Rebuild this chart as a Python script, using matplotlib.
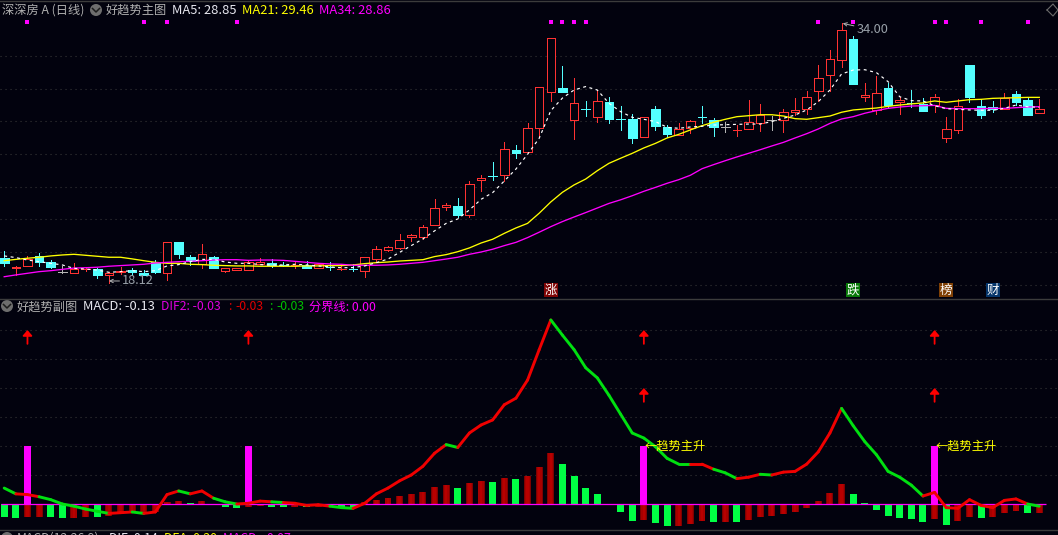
import matplotlib
matplotlib.use("Agg")
import matplotlib.pyplot as plt
from matplotlib.patches import Rectangle, Circle
from matplotlib.transforms import IdentityTransform

plt.rcParams['font.family'] = ['Noto Sans CJK SC', 'DejaVu Sans']

# daily prices
opens = [19.65, 19.05, 19.18, 19.77, 19.38, 18.77, 18.75, 18.93, 18.95, 18.63,
         18.79, 18.91, 18.71, 19.38, 18.75, 20.63, 19.69, 19.26, 19.69, 18.87,
         18.93, 18.93, 19.30, 19.32, 19.22, 19.20, 19.22, 19.05, 19.14, 18.95,
         19.01, 18.83, 19.60, 20.16, 20.28, 20.91, 20.95, 21.64, 22.74, 22.82,
         22.29, 24.39, 24.66, 24.70, 26.25, 26.15, 27.57, 29.77, 30.01, 28.06,
         28.73, 28.24, 29.16, 28.18, 28.12, 27.06, 28.75, 27.63, 27.18, 27.57,
         28.30, 28.06, 27.67, 27.45, 27.51, 27.91, 28.10, 28.10, 28.55, 28.77,
         29.87, 30.81, 31.76, 33.03, 29.50, 28.67, 30.03, 29.16, 29.16, 29.06,
         28.99, 26.96, 27.45, 31.44, 28.91, 28.85, 28.73, 29.67, 29.30, 28.53]
closes = [19.36, 19.12, 19.57, 19.42, 19.12, 18.77, 18.97, 18.97, 18.59, 18.71,
          18.87, 18.81, 18.63, 18.81, 20.61, 19.87, 19.44, 19.87, 19.05, 19.01,
          19.01, 19.38, 19.38, 19.20, 19.20, 19.22, 19.05, 19.30, 19.08, 19.01,
          18.95, 19.69, 20.17, 20.30, 20.74, 21.03, 21.52, 22.68, 22.86, 22.29,
          24.15, 24.51, 24.62, 26.29, 26.08, 27.57, 30.08, 33.07, 29.81, 29.10,
          28.71, 29.22, 28.16, 28.14, 27.00, 28.24, 27.73, 27.22, 27.51, 28.00,
          28.26, 27.67, 27.67, 27.51, 27.94, 28.36, 28.10, 28.55, 28.67, 29.46,
          30.62, 31.79, 33.56, 30.30, 29.59, 29.71, 28.99, 29.28, 29.12, 28.65,
          29.50, 27.51, 28.91, 29.50, 28.40, 28.75, 29.40, 29.20, 28.40, 28.73]
highs = [20.10, 19.16, 19.77, 19.97, 19.52, 19.16, 19.32, 19.08, 19.05, 18.81,
         19.08, 19.05, 18.91, 19.52, 20.61, 20.63, 19.83, 20.50, 19.77, 19.05,
         19.05, 19.52, 19.63, 19.56, 19.40, 19.40, 19.46, 19.32, 19.40, 19.26,
         19.28, 19.69, 20.38, 20.38, 21.11, 21.11, 21.66, 23.23, 22.99, 23.31,
         24.33, 24.72, 25.49, 26.73, 26.55, 27.90, 30.08, 33.07, 31.38, 30.63,
         29.24, 29.91, 29.46, 28.93, 28.45, 28.24, 28.95, 27.75, 27.90, 28.08,
         28.93, 28.18, 27.98, 27.77, 29.30, 29.06, 28.32, 28.75, 29.42, 29.85,
         31.44, 32.36, 34.00, 33.21, 30.32, 30.77, 30.32, 29.50, 29.91, 29.40,
         29.67, 28.24, 29.34, 31.44, 29.34, 29.24, 29.71, 29.85, 29.44, 29.34]
lows = [19.18, 18.59, 19.18, 19.18, 19.02, 18.75, 18.75, 18.83, 18.44, 18.12,
        18.67, 18.61, 18.59, 18.75, 18.30, 19.67, 19.22, 19.05, 19.01, 18.77,
        18.91, 18.91, 19.28, 19.12, 19.16, 19.03, 19.03, 19.03, 18.91, 18.91,
        18.87, 18.50, 19.48, 20.09, 20.18, 20.70, 20.79, 21.64, 22.60, 22.13,
        22.17, 23.76, 24.43, 24.35, 25.78, 26.15, 27.10, 29.26, 29.81, 26.94,
        28.32, 27.98, 27.92, 27.47, 26.69, 27.06, 27.47, 27.06, 27.18, 27.26,
        27.87, 27.12, 27.37, 27.12, 27.51, 27.43, 27.47, 27.36, 28.38, 28.44,
        29.26, 29.87, 31.34, 30.30, 29.26, 28.44, 28.89, 28.44, 28.89, 28.65,
        28.59, 26.75, 27.30, 29.20, 28.22, 28.55, 28.73, 29.00, 28.40, 28.53]

ma5 = [19.77, 19.67, 19.52, 19.42, 19.32, 19.22, 19.01, 18.97, 18.91, 18.77,
       18.81, 18.87, 18.81, 18.87, 19.16, 19.24, 19.42, 19.56, 19.56, 19.40,
       19.32, 19.32, 19.24, 19.22, 19.22, 19.26, 19.22, 19.16, 19.10, 19.05,
       19.06, 19.16, 19.36, 19.58, 19.99, 20.40, 20.81, 21.30, 21.76, 22.03,
       22.58, 23.23, 23.64, 24.35, 25.08, 25.98, 26.96, 28.65, 29.42, 29.91,
       30.12, 29.91, 29.10, 28.59, 28.24, 28.12, 27.98, 27.63, 27.57, 27.65,
       27.69, 27.77, 27.79, 27.81, 27.83, 27.83, 27.98, 28.18, 28.38, 28.69,
       29.20, 29.91, 30.89, 31.13, 31.15, 30.97, 30.42, 29.50, 29.26, 29.24,
       28.95, 28.77, 28.73, 28.69, 28.67, 28.67, 28.79, 28.99, 28.89, 28.85]
ma21 = [19.48, 19.56, 19.63, 19.69, 19.77, 19.83, 19.87, 19.81, 19.75, 19.69,
        19.69, 19.59, 19.48, 19.38, 19.32, 19.32, 19.26, 19.24, 19.20, 19.18,
        19.16, 19.16, 19.14, 19.14, 19.14, 19.14, 19.16, 19.16, 19.18, 19.18,
        19.22, 19.30, 19.36, 19.40, 19.46, 19.50, 19.54, 19.73, 19.85, 20.03,
        20.26, 20.56, 20.79, 21.15, 21.48, 21.76, 22.38, 23.07, 23.66, 24.11,
        24.47, 24.98, 25.43, 25.74, 26.04, 26.37, 26.65, 26.98, 27.20, 27.47,
        27.73, 27.94, 28.12, 28.28, 28.34, 28.40, 28.40, 28.32, 28.16, 28.12,
        28.22, 28.32, 28.55, 28.69, 28.75, 28.81, 28.91, 28.99, 29.06, 29.12,
        29.24, 29.16, 29.24, 29.32, 29.34, 29.40, 29.42, 29.44, 29.46, 29.46]
ma34 = [18.50, 18.61, 18.71, 18.81, 18.87, 18.95, 19.03, 19.05, 19.08, 19.14,
        19.18, 19.22, 19.26, 19.34, 19.38, 19.42, 19.44, 19.48, 19.52, 19.54,
        19.54, 19.50, 19.52, 19.52, 19.50, 19.44, 19.38, 19.32, 19.28, 19.26,
        19.20, 19.20, 19.20, 19.22, 19.26, 19.32, 19.38, 19.48, 19.58, 19.69,
        19.87, 20.01, 20.18, 20.40, 20.60, 20.89, 21.22, 21.56, 21.87, 22.15,
        22.42, 22.70, 22.98, 23.20, 23.45, 23.72, 23.96, 24.21, 24.43, 24.70,
        25.10, 25.35, 25.59, 25.82, 26.04, 26.26, 26.49, 26.71, 26.98, 27.24,
        27.53, 27.87, 28.14, 28.28, 28.49, 28.65, 28.79, 28.87, 28.93, 28.95,
        28.97, 28.79, 28.77, 28.77, 28.77, 28.79, 28.79, 28.83, 28.87, 28.89]

# small square marks along the top
top_marks = [2, 12, 14, 20, 47, 48, 49, 50, 70, 73, 80, 81, 84, 88]
price_grid = [18, 20, 22, 24, 26, 28, 30, 32]
event_days = [47, 73, 81, 85]
event_labels = ['涨', '跌', '榜', '财']
event_colors = ['#7f0505', '#0a7a0a', '#7f4005', '#06366b']

# lower pane
macd = [-0.175, -0.20, -0.18, -0.18, -0.175, -0.19, -0.19, -0.18, -0.18, -0.16,
        -0.14, -0.12, -0.12, -0.115, 0.03, 0.04, 0.014, 0.04, -0.02, -0.04,
        -0.055, -0.04, -0.03, -0.04, -0.04, -0.04, -0.04, -0.04, -0.04, -0.055,
        -0.055, 0.03, 0.055, 0.08, 0.11, 0.14, 0.165, 0.235, 0.26, 0.22,
        0.29, 0.32, 0.30, 0.36, 0.345, 0.39, 0.51, 0.70, 0.55, 0.39,
        0.22, 0.14, 0.005, -0.11, -0.235, -0.22, -0.26, -0.30, -0.30, -0.28,
        -0.235, -0.25, -0.25, -0.25, -0.22, -0.18, -0.165, -0.14, -0.11, -0.055,
        0.04, 0.15, 0.275, 0.14, 0.014, -0.08, -0.165, -0.19, -0.21, -0.25,
        -0.21, -0.29, -0.235, -0.18, -0.19, -0.18, -0.125, -0.10, -0.125, -0.125]
macd_sides = ('ggrrggrrgrrrrr' 'rrgrgggrrggrgrgg'
              'grrrrrrrrgrrgrgrrrgggggggrggrrrgrgrrrrrrrrrgggggggrgrrgrrrgr')
dif2 = [0.22, 0.14, 0.13, 0.10, 0.06, 0.0, -0.03, -0.07, -0.10, -0.13,
        -0.12, -0.11, -0.13, -0.11, 0.13, 0.18, 0.14, 0.18, 0.08, 0.03,
        0.0, 0.01, 0.04, 0.03, 0.02, 0.01, -0.02, -0.01, -0.03, -0.05,
        -0.06, 0.01, 0.14, 0.22, 0.32, 0.40, 0.52, 0.70, 0.82, 0.78,
        0.98, 1.09, 1.16, 1.37, 1.46, 1.71, 2.13, 2.54, 2.33, 2.13,
        1.88, 1.74, 1.50, 1.24, 0.98, 0.91, 0.79, 0.63, 0.55, 0.55,
        0.55, 0.48, 0.43, 0.35, 0.37, 0.41, 0.40, 0.44, 0.45, 0.55,
        0.72, 0.98, 1.32, 1.08, 0.86, 0.68, 0.45, 0.37, 0.26, 0.11,
        0.16, -0.05, -0.06, 0.06, -0.02, -0.05, 0.05, 0.07, 0.0, -0.03]
# steps of the line that are drawn green, numbered by their first day
green_steps = [0, 3, 4, 5, 6, 7, 8, 11, 15, 18, 19, 23, 28, 29, 38,
               47, 48, 49, 50, 51, 52, 53, 54, 55, 56, 57, 58, 61, 62, 65,
               72, 73, 74, 75, 76, 77, 78, 88]
signal_days = [2, 21, 55, 80]
signal_height = 0.80
upper_arrow = 2.30
lower_arrow = 1.50
lower_arrow_days = [55, 80]
label_days = [55, 80]
macd_grid = [0.4, 0.8, 1.2, 1.6, 2.0, 2.4]

BG = '#02020e'
RED = '#ff3232'
CYAN = '#54ffff'
days = list(range(len(closes)))
W, H = 1058, 535
# x pixel = 4.2 + 11.63 * day
xlim = (-4.2 / 11.63, (W - 4.2) / 11.63)

fig = plt.figure(figsize=(W / 100, H / 100), dpi=100, facecolor=BG)
ax = fig.add_axes([0, 1 - 298 / H, 1, 298 / H], facecolor=BG)
ax2 = fig.add_axes([0, 1 - 529 / H, 1, 230 / H], facecolor=BG)
for a in (ax, ax2):
    a.set_xlim(xlim)
    a.axis('off')
ax.set_ylim(17.20, 35.41)
ax2.set_ylim(-0.345, 2.829)


def header(x, y, s, color, size=8.8):
    fig.text(x / W, 1 - y / H, s, color=color, fontsize=size, va='center', ha='left')


def chevron(x, y):
    # drawn in display pixels
    px = IdentityTransform()
    fig.add_artist(Circle((x, H - y), 6, transform=px, fc='#6e6e6e', ec='none'))
    fig.add_artist(plt.Line2D([x - 3.5, x, x + 3.5], [H - y + 1.5, H - y - 2, H - y + 1.5],
                              color='#1c1c1c', lw=1.1, transform=px))


for p in price_grid:
    ax.axhline(p, color='#363636', lw=0.8, ls=(0, (1, 3.5)), zorder=1)
for v in macd_grid:
    ax2.axhline(v, color='#363636', lw=0.8, ls=(0, (1, 3.5)), zorder=1)

# candles
for i in days:
    o, c, h, l = opens[i], closes[i], highs[i], lows[i]
    top, bot = max(o, c), min(o, c)
    if o == c:
        col = '#b4b4b4'
    elif c > o:
        col = RED
    else:
        col = CYAN
    ax.vlines(i, top, h, color=col, lw=0.7, antialiased=False, zorder=3)
    ax.vlines(i, l, bot, color=col, lw=0.7, antialiased=False, zorder=3)
    if top - bot < 0.07:
        ax.hlines((top + bot) / 2, i - 0.37, i + 0.37, color=col, lw=0.7, antialiased=False, zorder=3)
    elif c > o:
        ax.add_patch(Rectangle((i - 0.37, bot), 0.74, top - bot, fc=BG, ec=col, lw=0.72,
                               antialiased=False, zorder=3))
    else:
        ax.add_patch(Rectangle((i - 0.37, bot), 0.74, top - bot, fc=col, ec=col, lw=0.5,
                               antialiased=False, zorder=3))

ax.plot(days, ma21, color='#ffff00', lw=0.95, zorder=4)
ax.plot(days, ma34, color='#ff00ff', lw=0.95, zorder=4)
ax.plot(days, ma5, color='#ffffff', lw=0.85, ls=(0, (2.5, 3)), zorder=5)
ax.plot(top_marks, [34.08] * len(top_marks), ls='none', marker='s', ms=2.3, color='#ff00ff', mew=0, zorder=6)

ax.annotate('18.12', xy=(9, 18.24), xytext=(10.15, 18.24), color='#98a0a8', fontsize=9.2,
            va='center', ha='left', arrowprops=dict(arrowstyle='->', mutation_scale=6, color='#b0b0b0', lw=0.7,
                                                    shrinkA=0, shrinkB=0))
ax.annotate('34.00', xy=(72.1, 33.98), xytext=(73.3, 33.58), color='#98a0a8', fontsize=9.2,
            va='center', ha='left', arrowprops=dict(arrowstyle='->', mutation_scale=6, color='#b0b0b0', lw=0.7,
                                                    shrinkA=0, shrinkB=0))

for d, s, col in zip(event_days, event_labels, event_colors):
    ax.text(d, 17.68, s, color='white', fontsize=9, ha='center', va='center', zorder=7,
            bbox=dict(boxstyle='square,pad=0.04', fc=col, ec='none'))

# lower pane bars
for i in days:
    if macd_sides[i] == 'g':
        ax2.bar(i, macd[i], width=0.6, color='#00ff44', lw=0, zorder=3)
    else:
        ax2.bar(i, macd[i], width=0.6, color='#a80000', lw=0, zorder=3)
        ax2.bar(i, macd[i], width=0.2, color='#b80000', lw=0, zorder=3)
        ax2.bar(i - 0.26, macd[i], width=0.08, color='#800000', lw=0, zorder=3)
        ax2.bar(i + 0.26, macd[i], width=0.08, color='#800000', lw=0, zorder=3)
ax2.bar(signal_days, [signal_height] * len(signal_days), width=0.6, color='#ff00ff', lw=0, zorder=4)
ax2.hlines(0, -0.3, 89.6, color='#ff00ff', lw=0.9, zorder=4)

for i in days[:-1]:
    col = '#00e010' if i in green_steps else '#f00000'
    ax2.plot([i, i + 1], [dif2[i], dif2[i + 1]], color=col, lw=2.1, solid_capstyle='round', zorder=5)

for d in signal_days:
    ax2.annotate('', xy=(d, upper_arrow + 0.1), xytext=(d, upper_arrow - 0.09), zorder=6,
                 arrowprops=dict(arrowstyle='-|>,head_width=0.28,head_length=0.32', color='#ff0000', lw=1.3,
                                 shrinkA=0, shrinkB=0))
for d in lower_arrow_days:
    ax2.annotate('', xy=(d, lower_arrow + 0.1), xytext=(d, lower_arrow - 0.09), zorder=6,
                 arrowprops=dict(arrowstyle='-|>,head_width=0.28,head_length=0.32', color='#ff0000', lw=1.3,
                                 shrinkA=0, shrinkB=0))
for d in label_days:
    ax2.text(d + 0.07, signal_height, '←趋势主升', color='#ffff00', fontsize=8.8, va='center', ha='left', zorder=7)

# panel separators and the top strip
for y in (0.5, 298.5, 529.5):
    fig.add_artist(plt.Line2D([0, 1], [1 - y / H] * 2, color='#3c3c3c', lw=1.0, transform=fig.transFigure))
fig.add_artist(plt.Line2D([1047 / W, 1053 / W, 1058 / W, 1053 / W, 1047 / W],
                          [1 - 10 / H, 1 - 4 / H, 1 - 10 / H, 1 - 16 / H, 1 - 10 / H],
                          color='#6a6a6a', lw=0.8, transform=fig.transFigure))

header(2, 10, '深深房 A (日线)', '#b0b0b0')
chevron(96, 10)
header(106, 10, '好趋势主图', '#b0b0b0')
header(172, 10, 'MA5: 28.85', '#e8e8f0', 9.3)
header(242, 10, 'MA21: 29.46', '#ffff00', 9.3)
header(319, 10, 'MA34: 28.86', '#ff00ff', 9.3)

chevron(7, 306)
header(17, 307, '好趋势副图', '#b0b0b0')
header(83, 307, 'MACD: -0.13', '#e8e8f0', 9.3)
header(161, 307, 'DIF2: -0.03', '#e000e0')
header(228, 307, ':', '#e00000')
header(235, 307, '-0.03', '#e00000')
header(269, 307, ':', '#00c000')
header(276, 307, '-0.03', '#00c000')
header(309, 307, '分界线: 0.00', '#ff00ff')

chevron(7, 538)
header(17, 538, 'MACD(12,26,9)', '#b0b0b0')
header(109, 538, 'DIF: 0.14', '#e8e8f0')
header(164, 538, 'DEA: 0.20', '#ffff00')
header(223, 538, 'MACD: -0.07', '#ff00ff')

fig.savefig('out.png', dpi=100, facecolor=BG)
